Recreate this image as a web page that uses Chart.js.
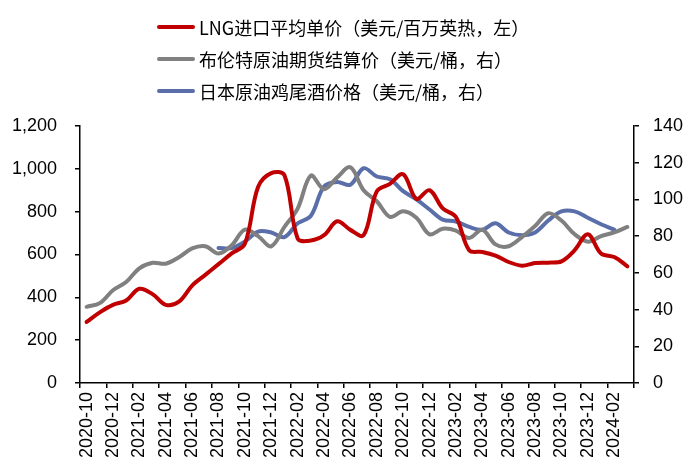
<!DOCTYPE html>
<html>
<head>
<meta charset="utf-8">
<script src="https://cdn.jsdelivr.net/npm/chart.js@4.4.1/dist/chart.umd.min.js"></script>
<style>
  html, body { margin: 0; padding: 0; background: #fff; }
  #wrap { position: relative; width: 700px; height: 476px; }
  #legend { position: absolute; left: 157px; top: 11px; font-family: "Noto Sans CJK SC", "Liberation Sans", sans-serif; font-size: 18px; color: #000; }
  .item { display: flex; align-items: center; height: 32px; white-space: nowrap; }
  .swatch { width: 38px; height: 4px; border-radius: 2px; margin-right: 4px; }
</style>
</head>
<body>
<div id="wrap">
  <canvas id="c" width="700" height="476"></canvas>
  <div id="legend"></div>
</div>
<script>
const months = ["2020-10","2020-11","2020-12","2021-01","2021-02","2021-03","2021-04","2021-05","2021-06","2021-07","2021-08","2021-09","2021-10","2021-11","2021-12","2022-01","2022-02","2022-03","2022-04","2022-05","2022-06","2022-07","2022-08","2022-09","2022-10","2022-11","2022-12","2023-01","2023-02","2023-03","2023-04","2023-05","2023-06","2023-07","2023-08","2023-09","2023-10","2023-11","2023-12","2024-01","2024-02","2024-03"];

const lngPrice = [285,330,365,385,440,415,365,380,455,505,555,605,650,915,980,970,675,665,690,755,715,690,895,930,975,860,900,815,775,620,612,595,565,548,560,562,568,620,695,605,588,545];

const brentPrice = [41.5,43.5,50.5,55,62.5,65.5,65,68.5,73.3,74.5,70.5,75,83.5,80,74.5,85,95,113,105.5,112,117.5,105,99,90.5,93.5,90,81,84,83,79,83.5,75.5,74.5,79.5,85.5,92.5,88.5,81,77,80,82,85];

const jccPrice = [null,null,null,null,null,null,null,null,null,null,73.5,73.5,77,82.5,82,79.5,87,91,107,109.5,108,117,112.5,111,104.5,100,94.5,89,88,85,83.5,87,82,80.5,82,88.5,93.5,93.5,90,86.5,83.5,null];

const seriesNames = ["LNG进口平均单价（美元/百万英热，左）","布伦特原油期货结算价（美元/桶，右）","日本原油鸡尾酒价格（美元/桶，右）"];
const leftTicks = [0,1200,200];
const rightTicks = [0,140,20];

const colors = ["#C00000","#808080","#5A6FAA"];

const datasets = [
  { label: seriesNames[0], data: lngPrice, yAxisID: 'yL', borderColor: colors[0] },
  { label: seriesNames[1], data: brentPrice, yAxisID: 'yR', borderColor: colors[1] },
  { label: seriesNames[2], data: jccPrice, yAxisID: 'yR', borderColor: colors[2] }
].map(d => Object.assign(d, { borderWidth: 4, pointRadius: 0, tension: 0.35, fill: false, spanGaps: false, borderCapStyle: 'round', borderJoinStyle: 'round' }));

// draw order: LNG on top? keep blue above grey, red first
const lg = document.getElementById('legend');
datasets.forEach(d => {
  const it = document.createElement('div'); it.className = 'item';
  const sw = document.createElement('span'); sw.className = 'swatch'; sw.style.background = d.borderColor;
  const tx = document.createElement('span'); tx.textContent = d.label;
  it.appendChild(sw); it.appendChild(tx); lg.appendChild(it);
});

const tickFont = { family: "'Liberation Sans', Arial, sans-serif", size: 18 };

new Chart(document.getElementById('c'), {
  type: 'line',
  data: { labels: months, datasets: datasets },
  options: {
    responsive: false,
    animation: false,
    layout: { padding: { top: 126, left: 0, right: 0, bottom: 0 } },
    plugins: { legend: { display: false }, tooltip: { enabled: false } },
    scales: {
      x: {
        type: 'category',
        offset: true,
        border: { display: true, color: '#000', width: 1.5 },
        grid: {
          offset: true, drawOnChartArea: false, drawTicks: true, tickLength: 5, lineWidth: 1.5,
          color: ctx => (ctx.index === undefined || ctx.index % 2 === 0) ? '#000' : 'rgba(0,0,0,0)'
        },
        ticks: {
          autoSkip: false, minRotation: 90, maxRotation: 90, padding: 4, color: '#000', font: tickFont,
          callback: function(v, i) { return i % 2 === 0 ? months[i] : ''; }
        },
        afterFit: s => { s.height = 93; }
      },
      yL: {
        position: 'left', min: leftTicks[0], max: leftTicks[1],
        border: { display: true, color: '#000', width: 1.5 },
        grid: { drawOnChartArea: false, tickLength: 5, color: '#000', lineWidth: 1.5 },
        ticks: { stepSize: leftTicks[2], padding: 18, color: '#000', font: tickFont },
        afterFit: s => { s.width = 80; }
      },
      yR: {
        position: 'right', min: rightTicks[0], max: rightTicks[1],
        border: { display: true, color: '#000', width: 1.5 },
        grid: { drawOnChartArea: false, tickLength: 5, color: '#000', lineWidth: 1.5 },
        ticks: { stepSize: rightTicks[2], padding: 14, color: '#000', font: tickFont },
        afterFit: s => { s.width = 66; }
      }
    }
  }
});
</script>
</body>
</html>
